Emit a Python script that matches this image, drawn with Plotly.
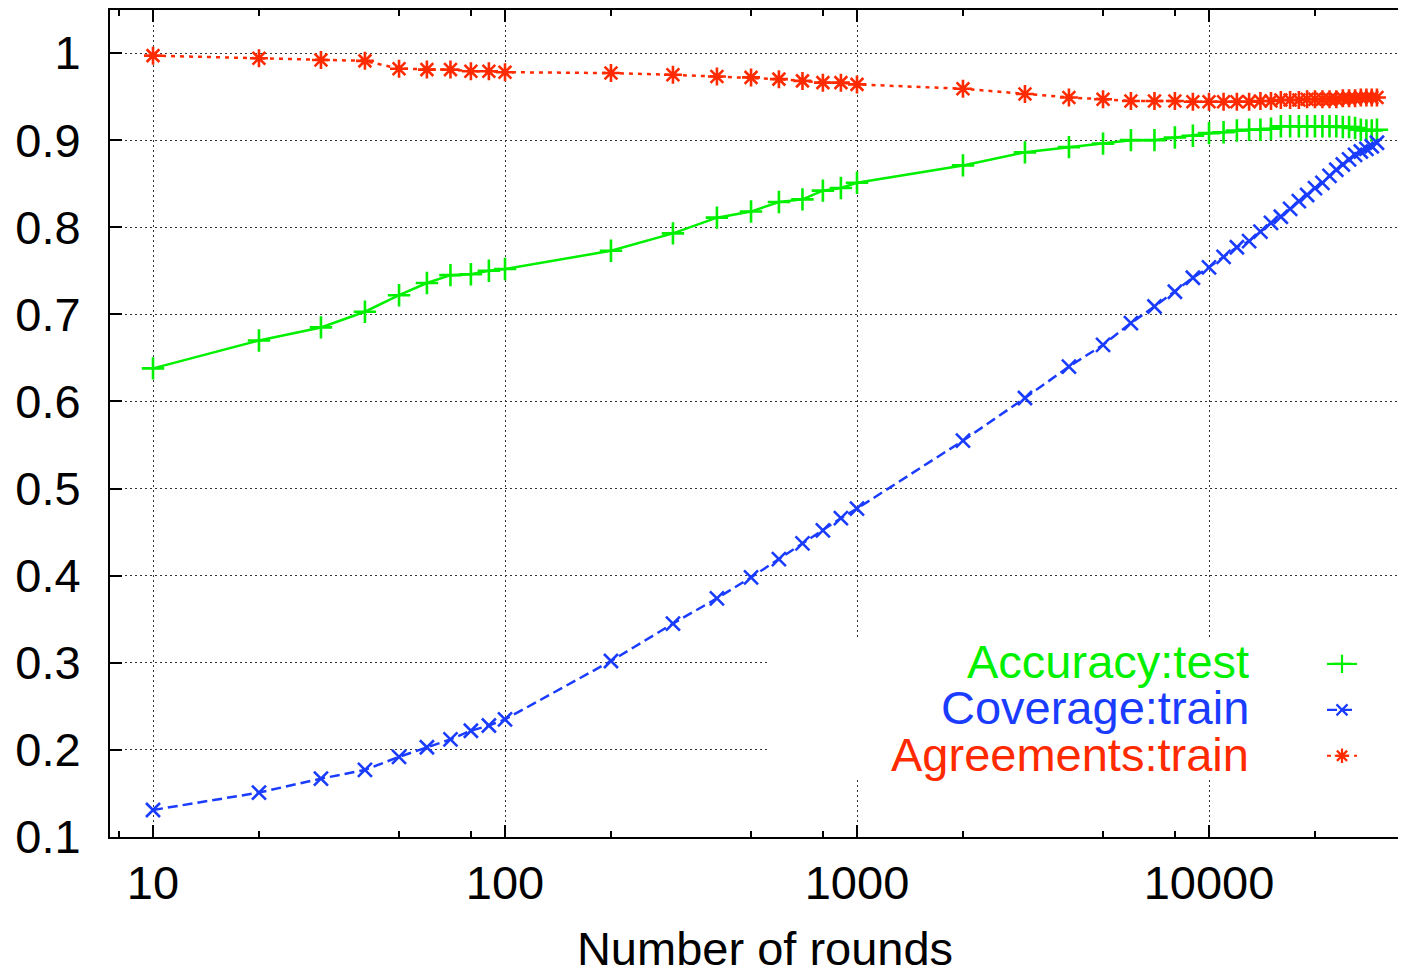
import plotly.graph_objects as go

rounds = [10, 20, 30, 40, 50, 60, 70, 80, 90, 100,
          200, 300, 400, 500, 600, 700, 800, 900, 1000,
          2000, 3000, 4000, 5000, 6000, 7000, 8000, 9000, 10000,
          11000, 12000, 13000, 14000, 15000, 16000, 17000, 18000, 19000, 20000,
          21000, 22000, 23000, 24000, 25000, 26000, 27000, 28000, 29000, 30000]

accuracy_test = [0.638, 0.670, 0.685, 0.703, 0.722, 0.736, 0.745, 0.746, 0.750, 0.752,
                 0.773, 0.793, 0.811, 0.818, 0.829, 0.832, 0.842, 0.845, 0.851,
                 0.871, 0.886, 0.892, 0.896, 0.900, 0.900, 0.903, 0.905, 0.908,
                 0.909, 0.911, 0.912, 0.912, 0.913, 0.916, 0.916, 0.916, 0.916, 0.916,
                 0.916, 0.916, 0.916, 0.915, 0.915, 0.914, 0.912, 0.911, 0.911, 0.912]

coverage_train = [0.131, 0.151, 0.167, 0.177, 0.192, 0.203, 0.212, 0.222, 0.228, 0.235,
                  0.302, 0.345, 0.374, 0.398, 0.419, 0.437, 0.452, 0.466, 0.477,
                  0.555, 0.604, 0.640, 0.665, 0.690, 0.709, 0.726, 0.742, 0.754,
                  0.766, 0.777, 0.784, 0.795, 0.805, 0.812, 0.821, 0.830, 0.837, 0.845,
                  0.851, 0.859, 0.866, 0.872, 0.878, 0.883, 0.887, 0.890, 0.893, 0.897]

agreements_train = [0.997, 0.994, 0.992, 0.991, 0.982, 0.981, 0.981, 0.979, 0.979, 0.978,
                    0.977, 0.975, 0.973, 0.972, 0.970, 0.968, 0.966, 0.966, 0.964,
                    0.959, 0.953, 0.949, 0.947, 0.945, 0.945, 0.945, 0.944, 0.944,
                    0.944, 0.944, 0.944, 0.945, 0.945, 0.946, 0.946, 0.946, 0.947, 0.947,
                    0.947, 0.947, 0.947, 0.948, 0.948, 0.948, 0.949, 0.949, 0.949, 0.949]

x_major = [10, 100, 1000, 10000]
x_major_labels = ["10", "100", "1000", "10000"]
x_minor = [8, 20, 50, 80, 200, 500, 800, 2000, 5000, 8000, 20000]
y_ticks = [0.1, 0.2, 0.3, 0.4, 0.5, 0.6, 0.7, 0.8, 0.9, 1.0]
y_labels = ["0.1", "0.2", "0.3", "0.4", "0.5", "0.6", "0.7", "0.8", "0.9", "1"]

series = [
    ("Accuracy:test", accuracy_test, "#00f000", "solid", "cross-thin", 16),
    ("Coverage:train", coverage_train, "#1a3cff", "10px,5px", "x-thin", 14),
    ("Agreements:train", agreements_train, "#ff2a00", "4px,5px", "asterisk", 15),
]

FONT = "Liberation Sans, Arial, Helvetica, sans-serif"
FS = 47
fig = go.Figure()

for name, vals, color, dash, sym, msize in series:
    fig.add_trace(go.Scatter(
        x=rounds, y=vals, name=name, mode="lines+markers", showlegend=False,
        line=dict(color=color, width=2.5, dash=dash),
        marker=dict(symbol=sym, size=msize, color=color, line=dict(color=color, width=2.6)),
    ))

# legend samples (gnuplot-style key: label on left, sample on right)
for name, vals, color, dash, sym, msize in series:
    fig.add_trace(go.Scatter(
        x=[None], y=[None], name=" ", mode="lines+markers", showlegend=True,
        line=dict(color=color, width=2.2, dash=dash),
        marker=dict(symbol=sym, size=msize - 3, color=color, line=dict(color=color, width=2.2)),
    ))

# page body has an 8px margin: work in screen pixels, convert to figure pixels
OFF = 8
PLOT_LEFT, PLOT_RIGHT, PLOT_TOP, PLOT_BOTTOM = 110, 1420, 10, 837   # screen px
W, H = 1430 - OFF, 975 - OFF
L = PLOT_LEFT - OFF
T = PLOT_TOP - OFF
R = W - (PLOT_RIGHT - OFF)
B = H - (PLOT_BOTTOM - OFF)
pw = W - L - R
ph = H - T - B

# log x axis: 10 at screen px 153, 352 px per decade
DEC = 352.0
x_lo = 1 + (PLOT_LEFT - 153) / DEC
x_hi = 1 + (PLOT_RIGHT - 153) / DEC

def px_x(p):
    return (p - OFF - L) / pw

def px_y(p):
    return (H - B - (p - OFF)) / ph

# key background (hides grid like gnuplot's opaque key)
fig.add_shape(type="rect", xref="paper", yref="paper",
              x0=px_x(770), x1=px_x(1415), y0=px_y(778), y1=px_y(640),
              fillcolor="white", line=dict(width=0), layer="above")

label_y = [661, 707, 754]
for (name, vals, color, dash, sym, msize), yy in zip(series, label_y):
    fig.add_annotation(text=name, xref="paper", yref="paper",
                       x=px_x(1251), y=px_y(yy), xanchor="right", yanchor="middle",
                       showarrow=False, font=dict(family=FONT, size=FS, color=color))

axis_common = dict(
    showline=True, linecolor="black", linewidth=2, mirror="allticks",
    ticks="inside", ticklen=12, tickwidth=1.5, tickcolor="black",
    showgrid=True, gridcolor="#333333", gridwidth=1, griddash="2px,3px",
    zeroline=False, tickfont=dict(family=FONT, size=FS, color="black"),
)

fig.update_xaxes(
    type="log", range=[x_lo, x_hi],
    tickmode="array", tickvals=x_major, ticktext=x_major_labels,
    minor=dict(tickmode="array", tickvals=x_minor, ticks="inside", ticklen=6,
               tickwidth=1.5, tickcolor="black", showgrid=False),
    ticklabelstandoff=4,
    title=dict(text="Number of rounds", font=dict(family=FONT, size=FS, color="black"), standoff=43),
    **axis_common,
)
fig.update_yaxes(
    range=[0.1, 1.0494], tickmode="array", tickvals=y_ticks, ticktext=y_labels,
    ticklabelstandoff=18,
    **axis_common,
)

fig.update_layout(
    width=W, height=H, autosize=False,
    margin=dict(l=L, r=R, t=T, b=B, autoexpand=False),
    paper_bgcolor="white", plot_bgcolor="white",
    font=dict(family=FONT, size=FS, color="black"),
    legend=dict(x=px_x(1322), y=px_y(636), xanchor="left", yanchor="top",
                bgcolor="rgba(0,0,0,0)", font=dict(family=FONT, size=33),
                tracegroupgap=0, itemwidth=30),
)

fig.write_html("out.html")
